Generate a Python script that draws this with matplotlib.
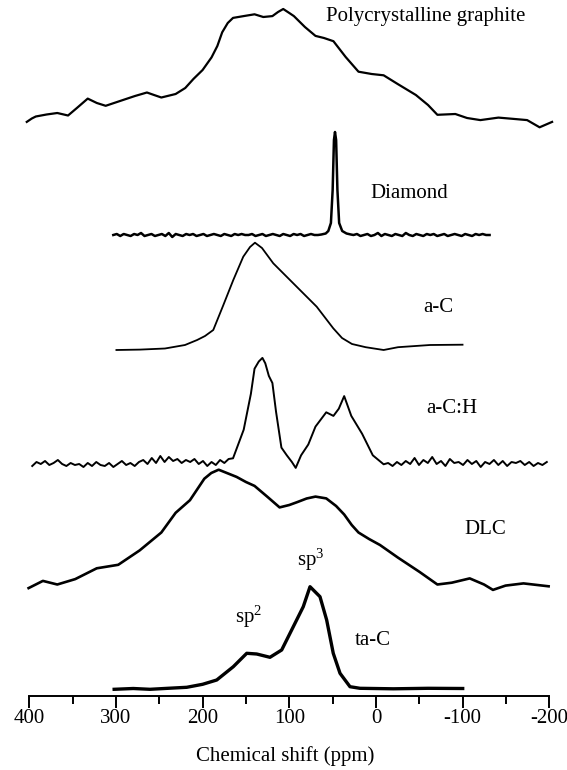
import numpy as np
import matplotlib
matplotlib.use("Agg")
import matplotlib.pyplot as plt
from matplotlib.ticker import MultipleLocator

plt.rcParams['font.family'] = ['Liberation Serif', 'DejaVu Serif']
plt.rcParams['mathtext.fontset'] = 'custom'
plt.rcParams['mathtext.rm'] = 'Liberation Serif'
plt.rcParams['mathtext.default'] = 'regular'

# ---- spectra: chemical shift (ppm) and intensity above each baseline ----
graphite_ppm = [402.8, 397, 392.4, 380, 367.6, 355.2, 345, 332.5, 322, 311.8,
                293.2, 278, 264.2, 256, 247.6, 231.1, 220, 210.5, 200, 189.7,
                183, 177.4, 171, 164.9, 152, 140.1, 130, 119.5, 113, 107.0,
                100, 94.7, 82, 69.8, 60, 49.1, 35, 20.2, 5, -8.8,
                -25, -46.0, -60, -70.8, -91.5, -105, -120.4, -141.2, -160, -174.3,
                -188.7, -203.1]
graphite_int = [0.1, 3.5, 5.5, 7.5, 9.0, 6.5, 14, 23.4, 19, 16.2,
                21.6, 26, 29.5, 27, 24.5, 28.0, 34, 43.1, 52, 64.6,
                76, 89.7, 99, 104.1, 106, 107.7, 105, 105.9, 110, 113.0,
                109, 105.9, 95, 86.1, 84, 80.8, 65, 50.3, 48, 46.7,
                38, 27.0, 17, 7.2, 8.0, 4, 1.9, 4.4, 3, 1.9,
                -5.3, 0.1]

diamond_noise_left = [0, 1, -1, 1, 0, -1, 1, 0, 2, -1, 0, 1, -1, 0, 1, -1, 2, -2, 1, 0,
                      -1, 1, 0, 1, -1, 0, 1, -1, 0, 1, 0, -1, 1, 0, -1, 1, 0, 1, 0, 0,
                      1, -1, 0, 1, -1, 0, 1, 0, -1, 1, 0, -1, 1, 0, 1, -1, 0, 1, 0, 0]
diamond_peak_ppm = [63, 58, 55, 52, 50, 48.5, 47.3, 46, 44.5, 42.5, 39, 34, 29]
diamond_peak_int = [0.5, 1.5, 4, 12, 45, 95, 103, 95, 45, 12, 4, 1.5, 0.5]
diamond_noise_right = [0, 1, -1, 0, 1, -1, 0, 2, -1, 1, 0, -1, 1, 0, -1, 2, 0, -1, 1, 0,
                       -1, 1, 0, 1, -1, 0, 1, -1, 0, 1, 0, -1, 1, 0, -1, 1, 0, 1, 0, 0]

aC_ppm = [299.4, 272.2, 243.4, 220.3, 206.3, 197.2, 187.7, 176.5, 164.6, 153.1,
          145.3, 139.6, 131.5, 118.5, 87.7, 68.4, 49.3, 39.2, 27.7, 11.9,
          -8.8, -25.4, -62.3, -99.8]
aC_int = [0, 0.4, 1.5, 5, 10, 14, 20, 44, 70, 93.3,
          103, 107.3, 102, 86.7, 60, 43.3, 21.7, 12, 6, 2.8,
          0, 2.8, 5, 5.3]

aCH_noise_left = [0, 4, 2, 5, 1, 3, 6, 2, 0, 3, 1, 2, -1, 3, 0, 4, 1, 0, 3, -1,
                  2, 5, 1, 3, 0, 4, 6, 2, 8, 3, 10, 4, 9, 5, 7, 3, 6, 4, 7,
                  2, 5, 0, 4, 1, 6, 3, 7]
aCH_peak_ppm = [164.9, 152.6, 144.3, 140.1, 135.2, 131.0, 127.7, 123.6, 119.5, 115.3,
                109.1, 102.9, 97, 92.6, 86.4, 78.1, 69.8, 57.4, 49.1, 42.9, 36.7,
                28.5, 16.0, 3.7, -8.8]
aCH_peak_int = [7.7, 36.3, 72.2, 97.3, 104.5, 108.1, 102.7, 90.1, 83.0, 54.3,
                18.4, 10.7, 4, -1.9, 10.7, 21.5, 39.4, 53.7, 50.1, 57.3, 69.9,
                50.1, 32.2, 10.7, 1.7]
aCH_noise_right = [3, 0, 4, 1, 5, 2, 8, 1, 6, 3, 9, 2, 5, 0, 7, 3, 4, 1, 6, 2,
                   5, -1, 4, 2, 6, 1, 5, 0, 4, 3, 5, 1, 4, 0, 3, 1, 4]

dlc_ppm = [400.7, 384.2, 367.6, 346.9, 322.1, 297.3, 272.6, 247.6, 231.1, 214.6,
           198.0, 190, 181.5, 160.8, 150, 140.1, 125, 111.2, 100, 90.5,
           80, 69.8, 57.4, 46, 36.7, 28, 20.2, 8, -4.6, -25.3,
           -50.2, -70.8, -87.4, -108.1, -124.6, -134.9, -149.4, -170.1, -199.1]
dlc_int = [-0.1, 7.1, 3.5, 8.9, 19.7, 23.2, 37.6, 55.5, 75.2, 87.8,
           109.3, 115, 118.3, 111.1, 106, 102.1, 91, 80.6, 83, 86.0,
           89.5, 91.4, 89.6, 82, 73.5, 63, 55.5, 49, 43.0, 30.4,
           16.1, 3.5, 5.3, 9.6, 3.5, -1.9, 2.4, 4.6, 1.7]

taC_ppm = [302, 280, 260.7, 240, 218.3, 200, 183.7, 164.6, 149.1, 137.6,
           122.3, 108.8, 95.4, 83.9, 76.1, 64.6, 56.9, 49.3, 41.5, 30.0,
           18.5, -20, -60, -100]
taC_int = [0, 0.8, 0, 1, 2, 5, 9.3, 22.6, 36, 35.3,
           32, 39.3, 62.6, 82.6, 102.6, 92.6, 69.3, 36, 16, 2.6,
           1, 0.5, 1, 0.8]

# sampling grids for the noisy baselines
d_left = np.linspace(303, 67, len(diamond_noise_left))
d_right = np.linspace(26, -131, len(diamond_noise_right))
diamond_ppm = np.concatenate([d_left, diamond_peak_ppm, d_right])
diamond_int = np.concatenate([diamond_noise_left, diamond_peak_int, diamond_noise_right])

h_left = np.linspace(396.5, 170, len(aCH_noise_left))
h_right = np.linspace(-14, -197, len(aCH_noise_right))
aCH_ppm = np.concatenate([h_left, aCH_peak_ppm, h_right])
aCH_int = np.concatenate([aCH_noise_left, aCH_peak_int, aCH_noise_right])

spectra = [
    (graphite_ppm, graphite_int, 574, 1.6),
    (diamond_ppm, diamond_int, 461, 1.8),
    (aC_ppm, aC_int, 346, 1.3),
    (aCH_ppm, aCH_int, 230, 1.4),
    (dlc_ppm, dlc_int, 108, 1.9),
    (taC_ppm, taC_int, 6.7, 2.4),
]

labels = [
    ("Polycrystalline graphite", 57.7, 679),
    ("Diamond", 6.9, 502.7),
    ("a-C", -54.6, 388),
    ("a-C:H", -58.4, 287.3),
    ("DLC", -101.8, 166.2),
    ("sp$^3$", 91.5, 136),
    ("sp$^2$", 162.6, 79.3),
    ("ta-C", 24.2, 55.5),
]

tick_vals = [400, 300, 200, 100, 0, -100, -200]
tick_text = ["400", "300", "200", "100", "0", "-100", "-200"]

fig = plt.figure(figsize=(5.67, 7.70), dpi=100)
ax = fig.add_axes([29.2 / 567, 1 - 696 / 770, (549.4 - 29.2) / 567, 696 / 770])

for ppm, inten, base, lw in spectra:
    ax.plot(ppm, np.asarray(inten) + base, color='black', lw=lw, clip_on=False,
            solid_joinstyle='round')

for txt, x, y in labels:
    ax.text(x, y, txt, fontsize=15, ha='left', va='center')

ax.set_xlim(400, -200)
ax.set_ylim(0, 696)
for s in ['left', 'right', 'top']:
    ax.spines[s].set_visible(False)
ax.spines['bottom'].set_linewidth(1.4)
ax.set_yticks([])
ax.set_xticks(tick_vals)
ax.set_xticklabels(tick_text)
ax.xaxis.set_minor_locator(MultipleLocator(50))
ax.tick_params(axis='x', which='major', length=8.5, width=1.4, direction='out',
               labelsize=15, pad=1.0)
ax.tick_params(axis='x', which='minor', length=5.5, width=1.4, direction='out')
ax.set_xlabel("Chemical shift (ppm)", fontsize=15)
ax.xaxis.set_label_coords(0.493, -0.072)

fig.savefig("out.png", dpi=100)
